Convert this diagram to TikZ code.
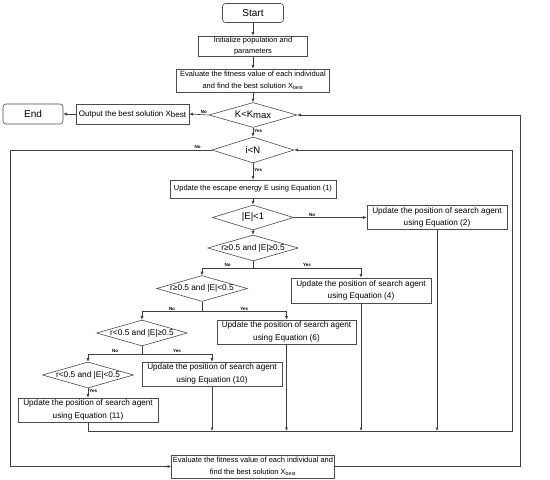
\documentclass[tikz,border=0pt]{standalone}
\usepackage{fontspec}
\setmainfont{Liberation Sans}
\usetikzlibrary{arrows.meta, shapes.geometric}

\begin{document}
\begin{tikzpicture}[x=1pt, y=-1pt,
    box/.style = {draw=black!70, line width=0.6pt, align=center, inner sep=0.5pt,
                  font=\fontsize{7.5}{12}\selectfont},
    agent/.style = {box, minimum width=140pt, minimum height=24pt,
                    font=\fontsize{8.2}{12.5}\selectfont},
    term/.style = {box, rounded corners=3pt, font=\fontsize{10}{12}\selectfont},
    cond/.style = {box, diamond, aspect=3.5, inner sep=0pt, font=\fontsize{8.3}{10}\selectfont},
    bigcond/.style = {cond, font=\fontsize{9.5}{11}\selectfont},
    lbl/.style = {font=\fontsize{4.5}{5}\selectfont\bfseries, inner sep=1pt},
    line/.style = {draw=black!75, line width=0.6pt},
    arr/.style = {line, -{Latex[length=3.5pt,width=3pt]}}]
  \useasboundingbox (0,0) rectangle (550,480);

  % main column
  \node[term, minimum width=61pt, minimum height=19pt] (start) at (253,13) {Start};
  \node[box, minimum width=109pt, minimum height=20pt, font=\fontsize{7.5}{11}\selectfont] (init) at (253,46)
    {Initialize population and\\parameters};
  \node[box, minimum width=153pt, minimum height=23pt] (evalA) at (253,80.5)
    {Evaluate the fitness value of each individual\\and find the best solution X\textsubscript{best}};
  \node[bigcond, minimum width=88pt, minimum height=25pt] (kcond) at (253,115)
    {K<K\lower1.5pt\hbox{max}};
  \node[box, minimum width=113pt, minimum height=20pt, font=\fontsize{8}{10}\selectfont] (output) at (132.5,114)
    {Output the best solution X\lower1.5pt\hbox{best}};
  \node[term, minimum width=60pt, minimum height=20pt] (finish) at (33,114) {End};
  \node[bigcond, minimum width=82pt, minimum height=26pt] (icond) at (253,150) {i<N};
  \node[box, minimum width=166pt, minimum height=18pt] (upE) at (253,189)
    {Update the escape energy E using Equation (1)};
  \node[bigcond, minimum width=81pt, minimum height=25pt] (echeck) at (253,217.5) {|E|<1};
  \node[agent] (eqB) at (437,217.5)
    {Update the position of search agent\\using Equation (2)};

  % branches
  \node[cond, minimum width=89pt, minimum height=26pt] (dA) at (253,248) {r≥0.5 and |E|≥0.5};
  \node[agent, minimum height=25pt] (eqD) at (361,290.5)
    {Update the position of search agent\\using Equation (4)};
  \node[cond, minimum width=88pt, minimum height=25pt] (dB) at (202,288.5) {r≥0.5 and |E|<0.5};
  \node[agent, minimum width=139pt] (eqF) at (286.5,332)
    {Update the position of search agent\\using Equation (6)};
  \node[cond, minimum width=88pt, minimum height=24pt] (dC) at (142,333) {r<0.5 and |E|≥0.5};
  \node[agent] (eqJ) at (212,374)
    {Update the position of search agent\\using Equation (10)};
  \node[cond, minimum width=87pt, minimum height=24pt] (dD) at (88,375) {r<0.5 and |E|<0.5};
  \node[agent] (eqK) at (88,410)
    {Update the position of search agent\\using Equation (11)};
  \node[box, minimum width=163pt, minimum height=23pt] (evalB) at (253,466.5)
    {Evaluate the fitness value of each individual and\\find the best solution X\textsubscript{best}};

  \coordinate (colR) at (512,431);
  \coordinate (loopL) at (10,466.5);
  \coordinate (loopR) at (520,466.5);

  \draw[arr] (start) -- (init);
  \draw[arr] (init) -- (evalA);
  \draw[arr] (evalA) -- (kcond);
  \draw[arr] (kcond.west) -- node[lbl, above, near start] {No} (output.east);
  \draw[arr] (output.west) -- (finish.east);
  \draw[arr] (kcond.south) -- node[lbl, right, pos=0.4] {Yes} (icond.north);
  \draw[arr] (icond.south) -- node[lbl, right, pos=0.4] {Yes} (upE.north);
  \draw[arr] (upE) -- (echeck);
  \draw[arr] (echeck.east) -- node[lbl, above, pos=0.25] {No} (eqB.west);
  \draw[arr] (echeck.south) -- (dA.north);

  \draw[arr] (dA.south) -- ++(0,7) -| node[lbl, above, pos=0.25] {No} (dB.north);
  \draw[arr] (dA.south) ++(0,7) -| node[lbl, above, pos=0.25] {Yes} (eqD.north);
  \draw[arr] (dB.south) -- ++(0,10) -| node[lbl, above, pos=0.25] {No} (dC.north);
  \draw[arr] (dB.south) ++(0,10) -| node[lbl, above, pos=0.25] {Yes} (eqF.north);
  \draw[arr] (dC.south) -- ++(0,8) -| node[lbl, above, pos=0.25] {No} (dD.north);
  \draw[arr] (dC.south) ++(0,8) -| node[lbl, above, pos=0.25] {Yes} (eqJ.north);
  \draw[arr] (dD.south) -- node[lbl, right, pos=0.3] {Yes} (eqK.north);

  % inner loop
  \draw[arr] (eqK.south) |- (colR) |- (icond.east);
  \foreach \eq in {eqJ, eqF, eqD, eqB}
    \draw[arr] (\eq.south) -- (\eq.south |- colR);

  % outer loop
  \draw[arr] (icond.west) -| node[lbl, above, pos=0.035] {No} (loopL) -- (evalB.west);
  \draw[arr] (evalB.east) -- (loopR) |- (kcond.east);
\end{tikzpicture}
\end{document}
